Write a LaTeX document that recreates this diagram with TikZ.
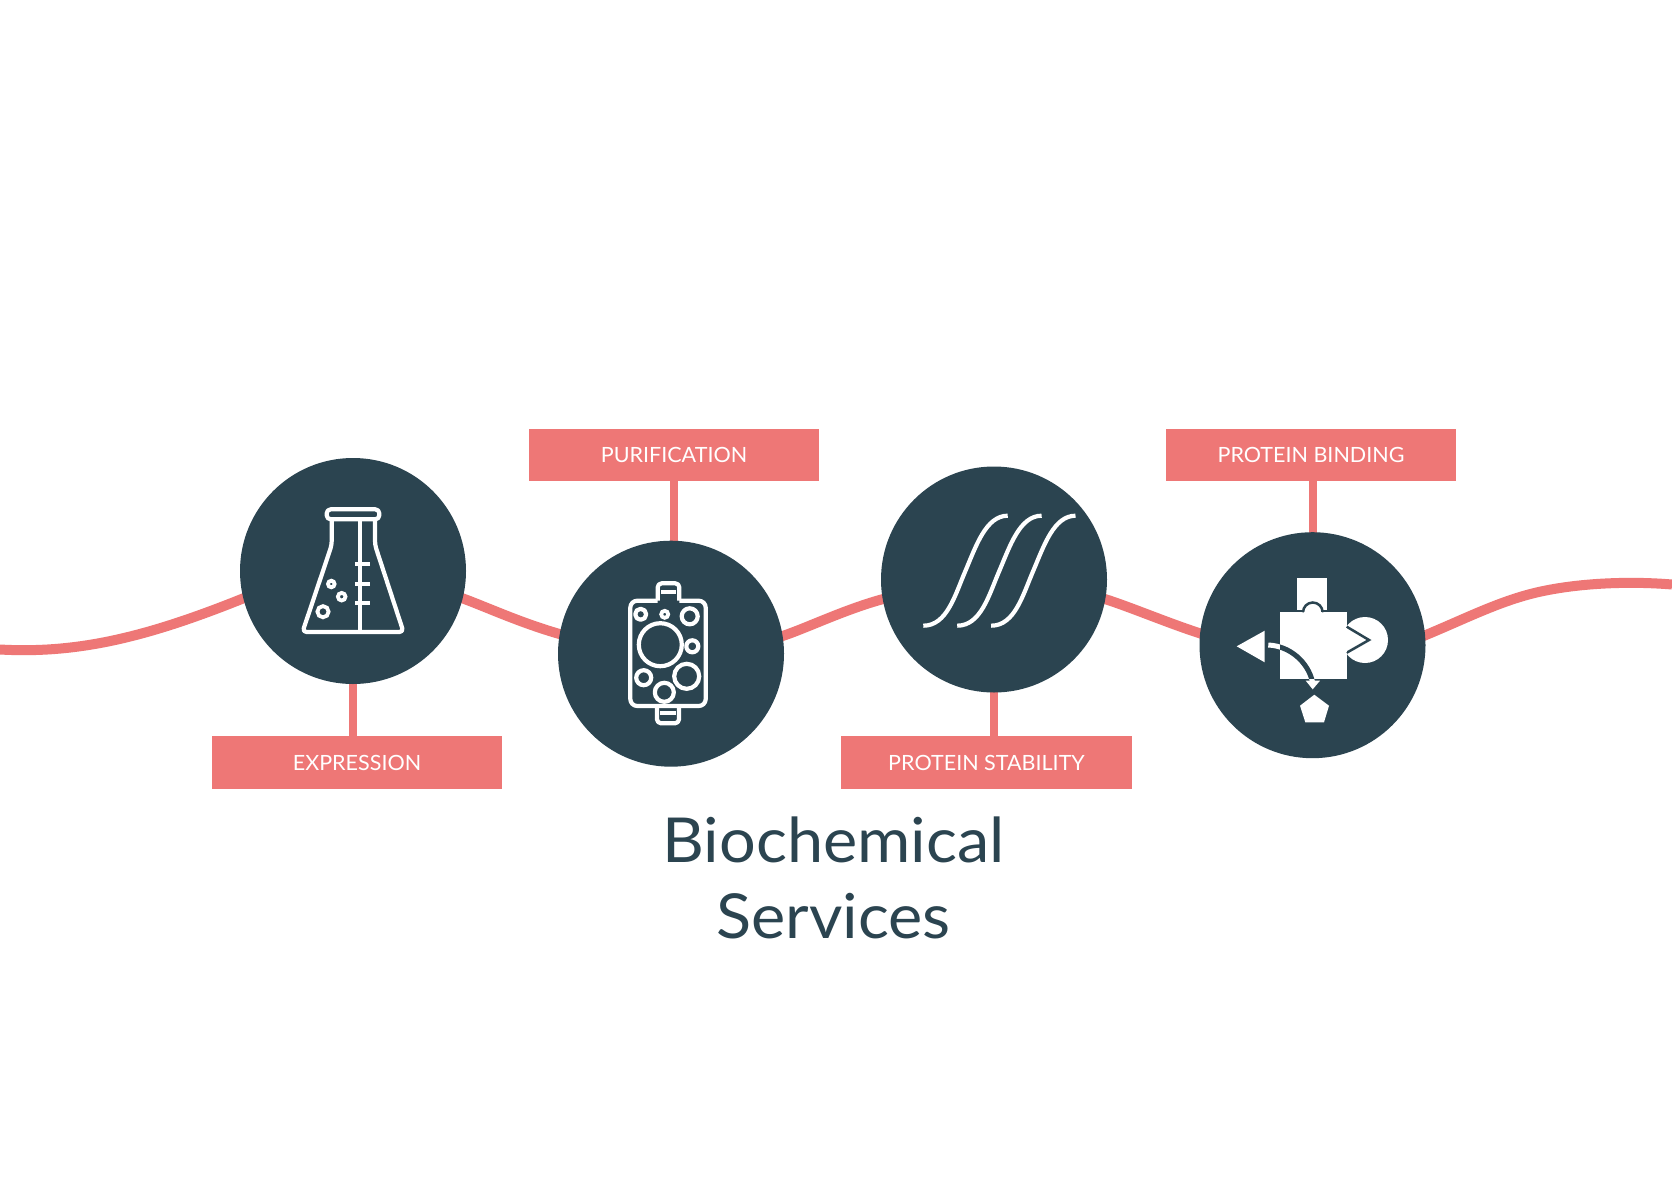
\documentclass[tikz,border=0pt]{standalone}
\usepackage{fontspec}
\setmainfont{Lato}
\newfontfamily\tagfont[FakeStretch=1.025]{Lato}
\newfontfamily\titlefont[FakeStretch=1.045]{Lato}
\definecolor{navy}{HTML}{2B4450}
\definecolor{salmon}{HTML}{EE7776}
\pgfdeclarelayer{back}
\pgfsetlayers{back,main}
\tikzset{
  disc/.style={circle,fill=navy,minimum size=226pt,inner sep=0pt,outer sep=0pt},
  tag/.style={rectangle,fill=salmon,text=white,minimum width=290.5pt,minimum height=52.5pt,inner sep=0pt,outer sep=0pt,text height=15.3pt,text depth=0pt,font=\tagfont\fontsize{21}{21}\selectfont},
  wave/.style={draw=salmon,line width=10pt,shorten >=-3pt,shorten <=-3pt},
  stub/.style={draw=salmon,line width=8pt},
  ink/.style={draw=white,line width=4.2pt,line join=round,fill=none},
  thin ink/.style={draw=white,line width=3.8pt,fill=none},
  shape white/.style={fill=white,draw=none},
  curve/.style={draw=white,line width=4.2pt},
  title/.style={text=navy,align=center,font=\titlefont\fontsize{62}{75.5}\selectfont,inner sep=0pt}
}
\begin{document}
\begin{tikzpicture}[x=1pt,y=-1pt]
\useasboundingbox (0,0) rectangle (1672,1180);

% nodes
\node[disc] (c1) at (353,571) {};
\node[disc] (c2) at (671,653.7) {};
\node[disc] (c3) at (994,579.5) {};
\node[disc] (c4) at (1312.5,645.2) {};
\node[tag] (t1) at (357,762.5) {EXPRESSION};
\node[tag] (t2) at (674,455) {PURIFICATION};
\node[tag] (t3) at (986.5,762.5) {PROTEIN STABILITY};
\node[tag] (t4) at (1311,455) {PROTEIN BINDING};
\coordinate (wl) at (0,649.5);
\coordinate (wm) at (1540,591.7);
\coordinate (wr) at (1672,584.5);

% wave and stubs behind discs
\begin{pgfonlayer}{back}
\fill[white] (0,0) rectangle (1672,1180);
\draw[wave,shorten <=0pt] (wl) .. controls (80,654) and (150,636) .. (c1.194);
\draw[wave] (c1.-14.3) .. controls (482,605) and (520,623) .. (c2.170);
\draw[wave] (c2.9.2) .. controls (805,629) and (845,609) .. (c3.190);
\draw[wave] (c3.-10) .. controls (1128,606) and (1170,624) .. (c4.174);
\draw[wave,shorten >=0pt] (c4.5.1) .. controls (1465,619) and (1500,600.5) .. (wm) .. controls (1580,582.9) and (1630,581) .. (wr);
\draw[stub] (c1.center) -- (c1.center |- t1.north);
\draw[stub] (c2.center -| t2.south) -- (t2.south);
\draw[stub] (c3.center) -- (c3.center |- t3.north);
\draw[stub] (c4.center) -- (c4.center |- t4.south);
\end{pgfonlayer}

% flask
\draw[ink,rounded corners=4pt] (326.7,509.3) rectangle (379.3,519.3);
\draw[ink,rounded corners=4pt] (331.7,519.3) -- (331.7,545) -- (302.5,632) -- (403.5,632) -- (375,545) -- (375,519.3);
\draw[ink] (360.3,519.3) -- (360.3,632);
\draw[ink] (355,564.3) -- (369.5,564.3);
\draw[ink] (355,584) -- (369.5,584);
\draw[ink] (355,603.3) -- (369.5,603.3);
\draw[thin ink] (331.3,584) circle (3.3pt);
\draw[thin ink] (341.7,596.7) circle (3.8pt);
\draw[thin ink] (323,611.7) circle (5.6pt);

% column
\draw[ink,rounded corners=7pt] (657.7,600.7) -- (630.3,600.7) -- (630.3,706) -- (705.7,706) -- (705.7,600.7) -- (679.3,600.7);
\draw[ink,rounded corners=4pt] (657.7,600.7) -- (657.7,583.3) -- (679.3,583.3) -- (679.3,600.7);
\draw[ink] (661,591.7) -- (676,591.7);
\draw[ink,rounded corners=4pt] (657,706) -- (657,723.3) -- (679,723.3) -- (679,706);
\draw[ink] (660,712.7) -- (676,712.7);
\draw[ink] (640.7,614.3) circle (5.5pt);
\draw[thin ink] (664.7,614.3) circle (3.5pt);
\draw[ink] (689.7,616.3) circle (8pt);
\draw[ink] (660.3,644.7) circle (21.5pt);
\draw[ink] (692.3,646.3) circle (6pt);
\draw[ink] (643.7,677.7) circle (7.5pt);
\draw[ink] (686.7,676.3) circle (12.5pt);
\draw[ink] (664.3,692.3) circle (9.5pt);

% melting curves
\foreach \dx in {0,33.9,67.8}{
  \draw[curve,xshift=\dx pt] (923.3,625.7) .. controls (947,625.7) and (955,595) .. (965.5,570.7) .. controls (976,546) and (986,515.7) .. (1007.7,515.7);
}

% binding shapes
\fill[shape white] (1365,640) circle (23pt);
\fill[shape white] (1297.3,578.3) rectangle (1327.3,610);
\fill[shape white] (1236.7,646.3) -- (1264.7,630.7) -- (1264.7,662.3) -- cycle;
\fill[shape white] (1300,705.7) -- (1314.3,694.7) -- (1329,705.7) -- (1324,722.3) -- (1305.3,722.3) -- cycle;
\draw[draw=white,line width=5pt] (1268.3,645) .. controls (1290,646) and (1308,662) .. (1312.5,682);
\fill[shape white] (1305.7,680.7) -- (1320,680.7) -- (1312.7,689.3) -- cycle;
\fill[shape white] (1280,612.3) rectangle (1346.7,678.7);
\draw[draw=navy,line width=2.5pt,fill=white] (1303,612.3) arc[start angle=180,end angle=0,radius=9.8pt];
\fill[shape white] (1304.3,612.3) rectangle (1321.7,616);
\draw[draw=navy,line width=2.5pt,fill=white,line join=miter] (1346.7,626.7) -- (1369,640) -- (1346.7,652.7);
\fill[shape white] (1340,628) rectangle (1346.7,652);
\begin{scope}
  \clip (1280,612.3) rectangle (1346.7,678.7);
  \draw[draw=navy,line width=5pt] (1268.3,645) .. controls (1290,646) and (1308,662) .. (1312.5,682);
\end{scope}

% title
\node[title,anchor=north] (title) at (833.5,817) {Biochemical\\Services};
\end{tikzpicture}
\end{document}
